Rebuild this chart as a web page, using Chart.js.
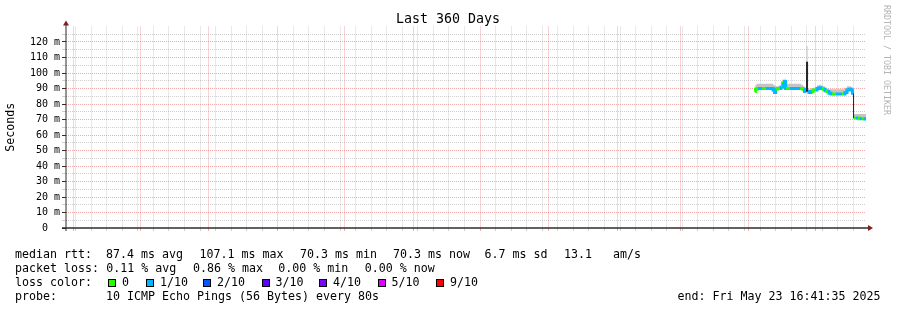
<!DOCTYPE html>
<html lang="en">
<head>
    <meta charset="UTF-8">
    <title>Last 360 Days</title>
    <style>
        body { margin: 0; background: #fff; }
        .chartBox { position: relative; width: 897px; height: 310px; font-family: "DejaVu Sans Mono", monospace; color: #000; }
        .chartBox canvas { position: absolute; left: 0; top: 0; }
        .txt { position: absolute; white-space: pre; font-size: 11.63px; line-height: 14px; }
        .title { position: absolute; left: 0; width: 896px; top: 11px; text-align: center; font-size: 13.3px; line-height: 16px; }
        .mark { position: absolute; left: 881px; top: 5px; width: 12px; height: 112px; }
        .mark span { position: absolute; left: 0; top: 0; transform-origin: 0 0; transform: translate(12px, 0) rotate(90deg); white-space: pre; font-size: 8.3px; line-height: 12px; color: #b4b4b4; }
        .box { position: absolute; width: 6px; height: 6px; border: 1px solid #000; }
    </style>
</head>
<body>
<div class="chartBox" id="box">
    <canvas id="myChart" width="897" height="310"></canvas>
    <div class="title">Last 360 Days</div>
    <div class="mark"><span>RRDTOOL / TOBI OETIKER</span></div>
</div>
<script src="https://cdn.jsdelivr.net/npm/chart.js"></script>

<script>
    // graph end, and the 360 days before it
    const endTime = Date.UTC(2025, 4, 23, 16, 41, 35);
    const spanDays = 360;

    // days since graph start
    const dayOffset = [310.0, 310.5, 311.4, 312.3, 313.2, 314.1, 315.0, 315.9, 316.8, 317.7,
        318.6, 319.1, 319.5, 320.4, 321.3, 322.2, 322.7, 323.1, 323.6, 324.0,
        324.9, 325.8, 326.7, 327.6, 328.5, 329.4, 330.3, 331.2, 332.1, 332.6,
        333.0, 333.5, 333.9, 334.8, 335.7, 336.6, 337.5, 338.4, 339.3, 340.2,
        341.1, 342.0, 342.9, 343.8, 344.7, 345.6, 346.5, 347.4, 348.3, 349.2,
        350.1, 351.0, 351.9, 352.8, 353.7, 354.2, 354.6, 355.5, 356.4, 357.3,
        358.2, 359.1, 360.0];
    // median rtt in ms
    const medianMs = [88.0, 89.5, 90.0, 90.0, 90.0, 90.0, 90.0, 90.0, 90.0, 90.0,
        89.0, 87.5, 89.5, 90.0, 90.0, 91.0, 93.5, 91.0, 94.5, 90.0,
        90.0, 90.0, 90.0, 90.0, 90.0, 90.0, 90.0, 90.0, 89.5, 88.0,
        88.0, 107.1, 88.0, 87.5, 88.0, 89.0, 89.0, 90.0, 90.5, 90.0,
        89.5, 88.5, 88.0, 87.0, 86.5, 86.5, 86.5, 86.5, 86.5, 86.5,
        86.5, 87.5, 89.0, 89.5, 89.0, 87.0, 71.0, 71.0, 71.0, 70.5,
        70.5, 70.5, 70.3];
    // lost pings out of 10
    const lossCount = [0, 0, 1, 1, 0, 0, 1, 1, 1, 1,
        1, 1, 0, 0, 1, 0, 1, 1, 1, 0,
        0, 1, 1, 1, 1, 1, 0, 0, 1, 1,
        1, 1, 1, 1, 0, 0, 1, 1, 1, 0,
        1, 0, 1, 1, 0, 0, 1, 1, 1, 0,
        1, 1, 1, 1, 1, 0, 0, 1, 0, 1,
        0, 1, 0];
    // smoke (ping spread) in ms
    const smokeLoMs = [87.3, 88.8, 89.3, 89.3, 89.3, 89.3, 89.3, 89.3, 89.3, 89.3,
        88.3, 86.8, 88.8, 89.3, 89.3, 90.3, 92.8, 90.3, 93.8, 89.3,
        89.3, 89.3, 89.3, 89.3, 89.3, 89.3, 89.3, 89.3, 88.8, 87.3,
        87.3, 89.0, 87.3, 86.8, 87.3, 88.3, 88.3, 89.3, 89.8, 89.3,
        88.8, 87.8, 87.3, 86.3, 85.8, 85.8, 85.8, 85.8, 85.8, 85.8,
        85.8, 86.8, 88.3, 88.8, 88.3, 86.3, 70.3, 70.3, 70.3, 70.0,
        70.0, 70.0, 70.0];
    const smokeHiMs = [90.0, 92.5, 93.0, 93.0, 93.0, 93.0, 93.0, 93.0, 93.0, 93.0,
        92.5, 92.0, 91.5, 91.5, 91.5, 93.0, 96.0, 95.0, 96.5, 93.0,
        93.0, 93.0, 93.0, 93.0, 93.0, 93.0, 93.0, 92.5, 91.5, 90.0,
        90.0, 117.5, 89.5, 89.5, 90.0, 90.5, 91.0, 92.0, 92.5, 92.0,
        91.5, 90.5, 90.0, 89.5, 89.5, 89.5, 89.5, 89.5, 89.5, 89.5,
        89.5, 90.5, 91.5, 91.5, 91.0, 89.0, 73.5, 73.5, 73.5, 73.5,
        73.5, 73.5, 73.5];

    const monthLabels = ["Jun '24", "Jul '24", "Aug '24", "Sep '24", "Oct '24", "Nov '24",
        "Dec '24", "Jan '25", "Feb '25", "Mar '25", "Apr '25", "May '25"];
    const yTicks = [0, 5, 10, 15, 20, 25, 30, 35, 40, 45, 50, 55, 60, 65, 70, 75, 80, 85, 90, 95, 100, 105, 110, 115, 120, 125];

    const lossLabels = ['0', '1/10', '2/10', '3/10', '4/10', '5/10', '9/10'];
    const lossColors = ['#26ff00', '#00b8ff', '#0059ff', '#5e00ff', '#7e00ff', '#dd00ff', '#ff0000'];
    const lossIndex = {0: 0, 1: 1, 2: 2, 3: 3, 4: 4, 5: 5, 9: 6};

    const legendRtt = ['median rtt:', '87.4 ms avg', '107.1 ms max', '70.3 ms min', '70.3 ms now', '6.7 ms sd', '13.1', 'am/s'];
    const legendLoss = ['packet loss:', '0.11 % avg', '0.86 % max', '0.00 % min', '0.00 % now'];
    const probeText = ['probe:', '10 ICMP Echo Pings (56 Bytes) every 80s'];
    const endText = 'end: Fri May 23 16:41:35 2025';

    // day positions for the time grid
    const DAY = 86400000;
    const startTime = endTime - spanDays * DAY;
    const toDay = t => (t - startTime) / DAY;
    const monthStarts = [];
    const monthMids = [];
    for (let i = 0; i < 12; i++) {
        monthStarts.push(toDay(Date.UTC(2024, 5 + i, 1)));
        monthMids.push(toDay(Date.UTC(2024, 5 + i, 16)));
    }
    const weekLines = [];
    for (let t = Date.UTC(2024, 5, 2); t < endTime; t += 7 * DAY) weekLines.push(toDay(t));
    const gridTicks = monthStarts.concat(weekLines.filter(w => !monthStarts.some(m => Math.abs(m - w) < 0.6))).sort((a, b) => a - b);

    const mgridColor = 'rgba(235,100,100,0.55)';
    const gridColor = 'rgba(150,150,150,0.45)';
    const axisColor = '#2c2c2c';
    const arrowColor = '#7f1f1f';
    const fontName = 'DejaVu Sans Mono';

    // Setup block (lower order is drawn on top)
    const pts = arr => dayOffset.map((d, i) => ({x: d, y: arr[i]}));
    const data = {
        datasets: [
            {
                label: 'smoke low',
                data: pts(smokeLoMs),
                order: 4,
                borderWidth: 0,
                pointRadius: 0,
                stepped: 'middle',
                fill: false
            },
            {
                label: 'smoke',
                data: pts(smokeHiMs),
                order: 3,
                borderWidth: 0,
                pointRadius: 0,
                stepped: 'middle',
                backgroundColor: '#c4c4c4',
                fill: '-1'
            },
            {
                label: 'median',
                data: pts(medianMs),
                order: 2,
                borderColor: '#202020',
                borderWidth: 1,
                pointRadius: 0,
                stepped: 'middle'
            },
            {
                label: 'median loss',
                data: pts(medianMs),
                order: 1,
                borderWidth: 3,
                pointRadius: 0,
                stepped: 'middle',
                borderCapStyle: 'butt',
                segment: {
                    borderColor: ctx => {
                        const a = ctx.p0DataIndex, b = ctx.p1DataIndex;
                        if (Math.abs(medianMs[a] - medianMs[b]) > 6) return 'rgba(0,0,0,0)';
                        return lossColors[lossIndex[lossCount[a]]];
                    }
                }
            }
        ]
    };

    // axes and arrows, rrdtool style
    const axesPlugin = {
        id: 'axes',
        afterDraw(chart) {
            const ctx = chart.ctx;
            const ca = chart.chartArea;
            ctx.save();
            ctx.strokeStyle = axisColor;
            ctx.lineWidth = 1;
            ctx.beginPath();
            ctx.moveTo(ca.left, ca.bottom + 3);
            ctx.lineTo(ca.left, ca.top - 2);
            ctx.stroke();
            ctx.lineWidth = 1.6;
            ctx.beginPath();
            ctx.moveTo(ca.left - 4, ca.bottom);
            ctx.lineTo(ca.right + 3, ca.bottom);
            ctx.stroke();
            ctx.fillStyle = arrowColor;
            ctx.beginPath();
            ctx.moveTo(ca.left - 3, ca.top - 1);
            ctx.lineTo(ca.left + 3, ca.top - 1);
            ctx.lineTo(ca.left, ca.top - 6);
            ctx.closePath();
            ctx.fill();
            ctx.beginPath();
            ctx.moveTo(ca.right + 2, ca.bottom - 3);
            ctx.lineTo(ca.right + 2, ca.bottom + 3);
            ctx.lineTo(ca.right + 7, ca.bottom);
            ctx.closePath();
            ctx.fill();
            ctx.restore();
        }
    };

    // Config block
    const config = {
        type: 'line',
        data: data,
        plugins: [axesPlugin],
        options: {
            responsive: false,
            animation: false,
            devicePixelRatio: 1,
            layout: {padding: {left: 0, right: 31, top: 26.5, bottom: 82}},
            plugins: {legend: {display: false}, tooltip: {enabled: false}},
            scales: {
                x: {
                    type: 'linear',
                    min: 0,
                    max: spanDays,
                    afterFit: s => { s.height = 0; },
                    afterBuildTicks: s => { s.ticks = gridTicks.map(v => ({value: v})); },
                    ticks: {display: false, autoSkip: false},
                    border: {display: false, dash: [1, 1]},
                    grid: {
                        color: c => monthStarts.includes(c.tick.value) ? mgridColor : gridColor,
                        tickColor: c => monthStarts.includes(c.tick.value) ? mgridColor : gridColor,
                        tickLength: 3
                    }
                },
                x2: {
                    type: 'linear',
                    position: 'bottom',
                    min: 0,
                    max: spanDays,
                    afterFit: s => { s.height = 0; },
                    afterBuildTicks: s => { s.ticks = monthMids.map(v => ({value: v})); },
                    ticks: {
                        autoSkip: false,
                        maxRotation: 0,
                        padding: 4,
                        color: '#000',
                        font: {family: fontName, size: 10},
                        callback: (v, i) => monthLabels[i]
                    },
                    border: {display: false},
                    grid: {display: false, drawTicks: false}
                },
                y: {
                    min: 0,
                    max: 130,
                    afterFit: s => { s.width = 66; },
                    afterBuildTicks: s => { s.ticks = yTicks.map(v => ({value: v})); },
                    ticks: {
                        autoSkip: false,
                        padding: 2,
                        color: '#000',
                        font: {family: fontName, size: 10},
                        callback: v => v === 0 ? '0  ' : (v % 10 === 0 ? v + ' m' : '')
                    },
                    border: {display: false, dash: [1, 1]},
                    grid: {
                        color: c => c.tick.value === 0 ? 'rgba(0,0,0,0)' : (c.tick.value % 10 === 0 ? mgridColor : gridColor),
                        tickColor: c => c.tick.value % 10 === 0 ? axisColor : gridColor,
                        tickLength: 4
                    },
                    title: {
                        display: true,
                        text: 'Seconds',
                        color: '#000',
                        padding: {top: 4, bottom: 0},
                        font: {family: fontName, size: 11.63}
                    }
                }
            }
        }
    };

    // Init block
    const myChart = new Chart(document.getElementById('myChart'), config);

    // text legend under the graph
    const box = document.getElementById('box');
    function put(text, x, yMid) {
        const el = document.createElement('div');
        el.className = 'txt';
        el.textContent = text;
        el.style.left = x + 'px';
        el.style.top = (yMid - 7) + 'px';
        box.appendChild(el);
    }
    const rttX = [15, 106, 199.5, 300, 393, 484.5, 564, 613];
    legendRtt.forEach((t, i) => put(t, rttX[i], 254.3));
    const lossX = [15, 106.3, 193, 278.3, 364.7];
    legendLoss.forEach((t, i) => put(t, lossX[i], 268.3));
    put('loss color:', 15, 282.3);
    const boxX = [108, 146, 203, 261.5, 319, 377.5, 436];
    lossLabels.forEach((t, i) => {
        const b = document.createElement('div');
        b.className = 'box';
        b.style.left = boxX[i] + 'px';
        b.style.top = '279px';
        b.style.background = lossColors[i];
        box.appendChild(b);
        put(t, boxX[i] + 14, 282.3);
    });
    put(probeText[0], 15, 296.3);
    put(probeText[1], 106, 296.3);
    put(endText, 677.5, 296.3);
</script>
</body>
</html>
